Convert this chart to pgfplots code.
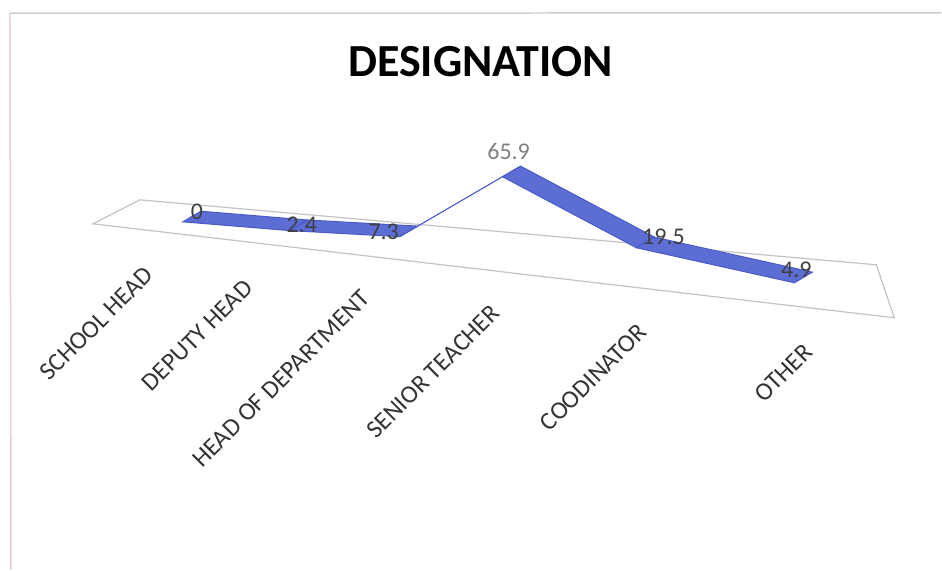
\documentclass[border=0pt]{standalone}
\usepackage{fontspec}
\setmainfont{Carlito}
\usepackage{pgfplots}
\pgfplotsset{compat=1.18}
\definecolor{ribbonedge}{RGB}{72,90,200}
\definecolor{floorc}{RGB}{195,195,195}
\definecolor{labc}{RGB}{64,64,64}
\definecolor{framet}{RGB}{205,205,205}
\definecolor{framel}{RGB}{232,205,214}
\begin{document}
\begin{tikzpicture}
\begin{axis}[
  x={(61.2pt,-6.694pt)}, y={(9pt,5.3pt)}, z={(0pt,0.6079pt)},
  xmin=0, xmax=5, ymin=0, ymax=1, zmin=0, zmax=70,
  hide axis, clip=false,
]
% page extent
\path (axis cs:-1.4951,0,166.13) rectangle (axis cs:6.201,0,-217.95);
% chart frame
\draw[framet, line width=0.75pt] (axis cs:-1.4134,0,156.3) -- (axis cs:6.201,0,240.2);
\draw[framel, line width=0.75pt] (axis cs:-1.4134,0,156.3) -- (axis cs:-1.4052,0,-301.7);
% floor
\draw[floorc, line width=0.6pt] (axis cs:-0.7353,0,-9.74) -- (axis cs:5.817,0,-14.9)
   -- (axis cs:5.670,0,27.07) -- (axis cs:-0.3513,0,14.23) -- cycle;
% ribbon
\addplot3[surf, shader=faceted, faceted color=ribbonedge, line width=0.5pt,
  colormap={rib}{rgb255=(92,110,212) rgb255=(92,110,212)},
  mesh/rows=2, mesh/cols=6] coordinates {
(0,0,0) (0.874,0,2.4) (1.773,0,7.3) (2.614,0,65.9) (3.709,0,19.5) (5,0,4.9)
(0,1,0) (0.874,1,2.4) (1.773,1,7.3) (2.614,1,65.9) (3.709,1,19.5) (5,1,4.9)
};
% data labels
\begin{scope}[every node/.style={font=\fontsize{12}{14}\selectfont, text=labc, inner sep=0pt}]
\node at (axis cs:0.1144,0,9.49) {0};
\node at (axis cs:0.9722,0,8.24) {2.4};
\node at (axis cs:1.6422,0,9.86) {7.3};
\node[text=gray] at (axis cs:2.6634,0,86.9) {65.9};
\node at (axis cs:3.9297,0,30.93) {19.5};
\node at (axis cs:5.0163,0,15.76) {4.9};
\end{scope}
% category labels
\begin{scope}[every node/.style={font=\fontsize{12.6}{14}\selectfont, text=black!80, rotate=45, anchor=north east, inner sep=0pt}]
\node at (axis cs:-0.3268,0,-38.97) {SCHOOL HEAD};
\node at (axis cs:0.4902,0,-40.66) {DEPUTY HEAD};
\node at (axis cs:1.4461,0,-38.36) {HEAD OF DEPARTMENT};
\node at (axis cs:2.5082,0,-39.0) {SENIOR TEACHER};
\node at (axis cs:3.7092,0,-41.4) {COODINATOR};
\node at (axis cs:5.0654,0,-42.9) {OTHER};
\end{scope}
% title
\node[anchor=base, font=\fontsize{23}{26}\selectfont\bfseries] at (axis cs:2.4346,0,146.07) {DESIGNATION};
\end{axis}
\end{tikzpicture}
\end{document}
